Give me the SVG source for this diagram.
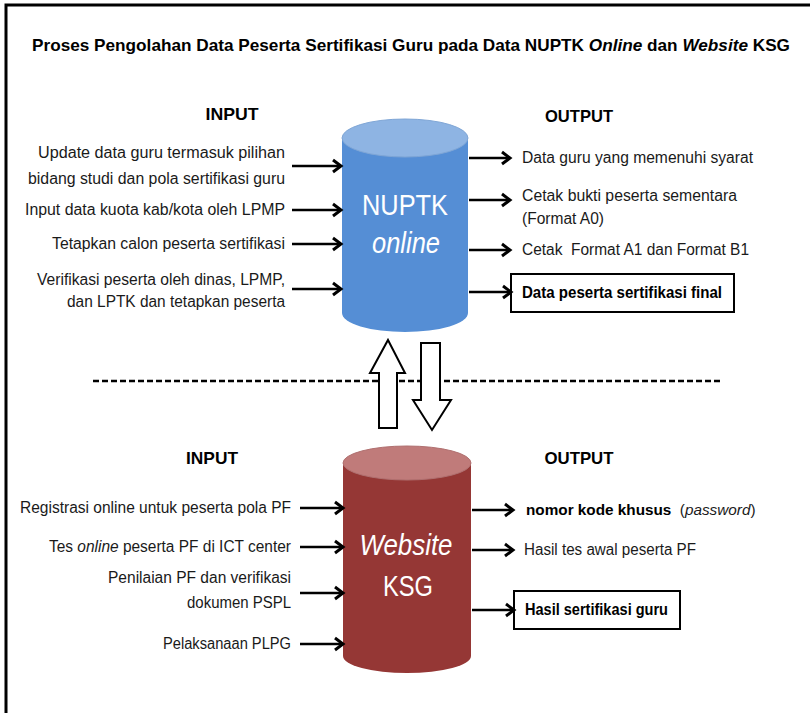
<svg xmlns="http://www.w3.org/2000/svg" width="810" height="713" viewBox="0 0 810 713">
<style>
text{font-family:"Liberation Sans",Arial,sans-serif;fill:#1a1a1a}
.t{font-size:16px}
.b{font-weight:bold;fill:#000}
.h{font-size:17px;font-weight:bold;fill:#000}
.e{text-anchor:end}
.m{text-anchor:middle}
.cyl{fill:#fff;font-size:30px;text-anchor:middle}
.arr{stroke:#000;stroke-width:2.6;fill:none;marker-end:url(#ah)}
.box{fill:#fff;stroke:#000;stroke-width:2}
</style>
<defs>
<marker id="ah" markerUnits="userSpaceOnUse" markerWidth="14" markerHeight="16" refX="11" refY="8" orient="auto">
<path d="M3,2 L11,8 L3,14" fill="none" stroke="#000" stroke-width="3"/>
</marker>
</defs>
<rect width="810" height="713" fill="#fff"/>
<g id="frame" stroke="#000" stroke-width="3" fill="none">
<path d="M6,713 V5 H810"/>
</g>
<text id="title" class="h" x="32" y="51" font-size="17.5" textLength="758" lengthAdjust="spacingAndGlyphs">Proses Pengolahan Data Peserta Sertifikasi Guru pada Data NUPTK <tspan font-style="italic">Online</tspan> dan <tspan font-style="italic">Website</tspan> KSG</text>

<g id="headings">
<text class="h m" x="232" y="120" textLength="53" lengthAdjust="spacingAndGlyphs">INPUT</text>
<text class="h m" x="579" y="122" textLength="68" lengthAdjust="spacingAndGlyphs">OUTPUT</text>
<text class="h m" x="212" y="464" textLength="52" lengthAdjust="spacingAndGlyphs">INPUT</text>
<text class="h m" x="579" y="464" textLength="69" lengthAdjust="spacingAndGlyphs">OUTPUT</text>
</g>

<g id="nuptk">
<path d="M342,138 V313 A63,19 0 0 0 468,313 V138 Z" fill="#558ED5"/>
<ellipse cx="405" cy="138" rx="63" ry="19" fill="#8EB4E3" stroke="#7FA6D6" stroke-width="1"/>
<text class="cyl" x="405" y="215" textLength="86" lengthAdjust="spacingAndGlyphs">NUPTK</text>
<text class="cyl" x="406" y="253" font-style="italic" textLength="68" lengthAdjust="spacingAndGlyphs">online</text>
</g>

<g id="ksg">
<path d="M343,463 V656 A64,17 0 0 0 471,656 V463 Z" fill="#953735"/>
<ellipse cx="407" cy="463" rx="64" ry="17" fill="#C07B7A" stroke="#B07070" stroke-width="1"/>
<text class="cyl" x="406" y="555" font-style="italic" textLength="93" lengthAdjust="spacingAndGlyphs">Website</text>
<text class="cyl" x="408" y="596" textLength="50" lengthAdjust="spacingAndGlyphs">KSG</text>
</g>

<g id="inputs-top">
<text class="t e" x="285" y="158" textLength="247" lengthAdjust="spacingAndGlyphs">Update data guru termasuk pilihan</text>
<text class="t e" x="285" y="184" textLength="257" lengthAdjust="spacingAndGlyphs">bidang studi dan pola sertifikasi guru</text>
<text class="t e" x="285" y="215" textLength="260" lengthAdjust="spacingAndGlyphs">Input data kuota kab/kota oleh LPMP</text>
<text class="t e" x="285" y="249" textLength="233" lengthAdjust="spacingAndGlyphs">Tetapkan calon peserta sertifikasi</text>
<text class="t e" x="285" y="285" textLength="248" lengthAdjust="spacingAndGlyphs">Verifikasi peserta oleh dinas, LPMP,</text>
<text class="t e" x="285" y="307" textLength="218" lengthAdjust="spacingAndGlyphs">dan LPTK dan tetapkan peserta</text>
</g>

<g id="outputs-top">
<text class="t" x="522" y="163" textLength="231" lengthAdjust="spacingAndGlyphs">Data guru yang memenuhi syarat</text>
<text class="t" x="522" y="201" textLength="215" lengthAdjust="spacingAndGlyphs">Cetak bukti peserta sementara</text>
<text class="t" x="522" y="224" textLength="82" lengthAdjust="spacingAndGlyphs">(Format A0)</text>
<text class="t" x="522" y="255" textLength="227" lengthAdjust="spacingAndGlyphs">Cetak&#160; Format A1 dan Format B1</text>
</g>
<g id="final-box">
<rect class="box" x="511" y="274" width="223" height="38"/>
<text class="t b" x="522" y="298" textLength="200" lengthAdjust="spacingAndGlyphs">Data peserta sertifikasi final</text>
</g>

<g id="inputs-bottom">
<text class="t e" x="291" y="513" textLength="271" lengthAdjust="spacingAndGlyphs">Registrasi online untuk peserta pola PF</text>
<text class="t e" x="291" y="552" textLength="242" lengthAdjust="spacingAndGlyphs">Tes <tspan font-style="italic">online</tspan> peserta PF di ICT center</text>
<text class="t e" x="291" y="583" textLength="183" lengthAdjust="spacingAndGlyphs">Penilaian PF dan verifikasi</text>
<text class="t e" x="291" y="608" textLength="104" lengthAdjust="spacingAndGlyphs">dokumen PSPL</text>
<text class="t e" x="291" y="649" textLength="128" lengthAdjust="spacingAndGlyphs">Pelaksanaan PLPG</text>
</g>

<g id="outputs-bottom">
<text x="526" y="515" font-size="15.3"><tspan font-weight="bold" fill="#000">nomor kode khusus</tspan>&#160; (<tspan font-style="italic">password</tspan>)</text>
<text class="t" x="524" y="555" textLength="172" lengthAdjust="spacingAndGlyphs">Hasil tes awal peserta PF</text>
</g>
<g id="hasil-box">
<rect class="box" x="514" y="591" width="166" height="38"/>
<text class="t b" x="525" y="615" textLength="143" lengthAdjust="spacingAndGlyphs">Hasil sertifikasi guru</text>
</g>

<g id="connectors">
<path class="arr" d="M292,166 H341"/>
<path class="arr" d="M292,210 H341"/>
<path class="arr" d="M292,244 H341"/>
<path class="arr" d="M292,289 H341"/>
<path class="arr" d="M469,158 H510"/>
<path class="arr" d="M469,200 H510"/>
<path class="arr" d="M469,250 H510"/>
<path class="arr" d="M469,292 H511"/>
<path class="arr" d="M300,508 H343"/>
<path class="arr" d="M300,547 H343"/>
<path class="arr" d="M300,593 H343"/>
<path class="arr" d="M300,644 H343"/>
<path class="arr" d="M472,510 H513"/>
<path class="arr" d="M472,550 H513"/>
<path class="arr" d="M472,610 H514"/>
<path d="M93,381 H722" stroke="#000" stroke-width="2.5" stroke-dasharray="6 3" fill="none"/>
<path d="M388,340 L405,373 H397 V428 H379 V373 H370 Z" fill="#fff" stroke="#000" stroke-width="2"/>
<path d="M421,343 H440 V400 H451 L432,430 L413,400 H421 Z" fill="#fff" stroke="#000" stroke-width="2"/>
</g>
</svg>
